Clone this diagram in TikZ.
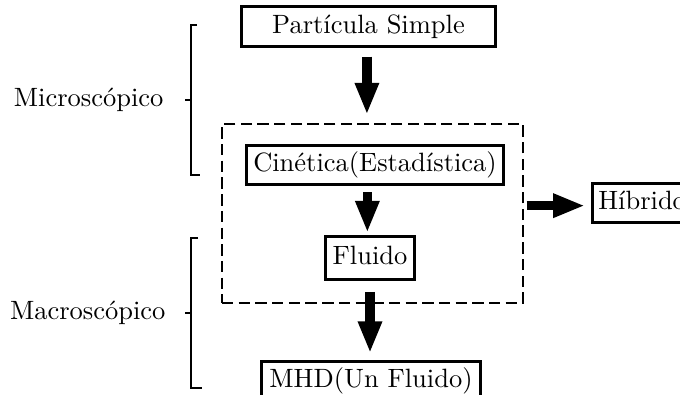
\documentclass[tikz,border=0pt]{standalone}
\usepackage{fontspec}
\usetikzlibrary{arrows.meta,fit}

\tikzset{
  box/.style={draw, line width=1.1pt, inner xsep=2.6pt, inner ysep=2.4pt,
              text height=7.5pt, text depth=2.5pt},
  dashbox/.style={draw, line width=1.05pt, dash pattern=on 4.3pt off 2pt, inner sep=0pt},
  bigarrow/.style={line width=3.5pt,
                   -{Triangle[length=12pt,width=8.4pt]}},
  bracket/.style={line width=1.1pt},
  lbl/.style={inner sep=0pt, anchor=east}
}

\begin{document}
\begin{tikzpicture}[x=0.3775pt, y=-0.3775pt]
  \clip (0,0) rectangle (680,394);
  \useasboundingbox (0,0) rectangle (680,394);

  % model hierarchy
  \node[box, minimum width=96pt] (part) at (368.5,26.5) {Partícula Simple};
  \node[box] (cin) at (375,165) {Cinética(Estadística)};
  \node[box, inner ysep=3.2pt] (flu) at (370,258) {Fluido};
  \node[box, anchor=north, inner xsep=3pt] (mhd) at (371,360) {MHD(Un Fluido)};
  \node[box, anchor=west, inner xsep=2.2pt] (hib) at (591,203) {Híbrido};

  % kinetic + fluid group
  \coordinate (gtl) at (222,124);
  \coordinate (gbr) at (523,303);
  \node[dashbox, fit=(gtl) (gbr)] (grp) {};

  % arrows
  \draw[bigarrow, shorten <=3.4pt, shorten >=3pt]
    ([xshift=-0.6pt]part.south) -- ([xshift=-0.6pt]part.south |- grp.north);
  \draw[bigarrow, shorten <=2.3pt, shorten >=0.8pt]
    ([xshift=-1pt]flu.north |- cin.south) -- ([xshift=-1pt]flu.north);
  \draw[bigarrow, shorten <=4pt, shorten >=2.6pt]
    (flu.south) -- (flu.south |- mhd.north);
  \draw[bigarrow, shorten <=0.8pt, shorten >=2.3pt]
    ([yshift=-1pt]grp.east |- hib.west) -- ([yshift=-1pt]hib.west);

  % scale brackets
  \coordinate (mictick) at (185,100);
  \draw[bracket] (197,25) -- (191,25) -- (191,175) -- (200,175);
  \draw[bracket] (mictick) -- (191,100);
  \node[lbl] (mic) at (164,100) {Microscópico};

  \coordinate (mactick) at (185,313);
  \draw[bracket] (198,238) -- (191,238) -- (191,388) -- (202,388);
  \draw[bracket] (mactick) -- (191,313);
  \node[lbl] (mac) at (166,313) {Macroscópico};
\end{tikzpicture}
\end{document}
